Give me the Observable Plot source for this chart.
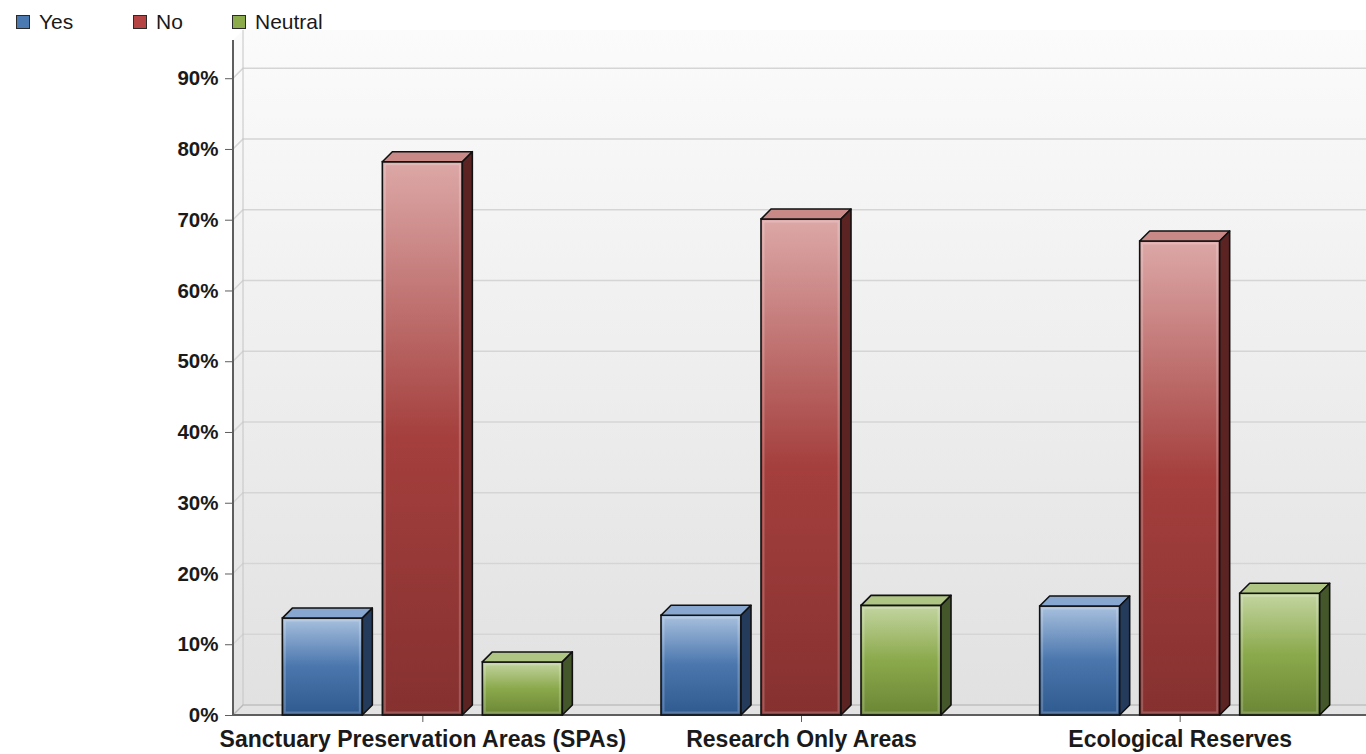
<!DOCTYPE html>
<html>
<head>
<meta charset="utf-8">
<script src="https://cdn.jsdelivr.net/npm/d3@7"></script>
<script src="https://cdn.jsdelivr.net/npm/@observablehq/plot@0.6"></script>
<style>
  html, body { margin: 0; padding: 0; background: #fff; overflow: hidden; }
  #legend { position: relative; z-index: 1; height: 30px; font-family: "Liberation Sans", Arial, Helvetica, sans-serif; font-size: 21px; color: #1a1a1a; }
  #legend .item { position: absolute; top: 0; height: 44px; display: flex; align-items: center; white-space: nowrap; }
  #legend .sw { width: 12px; height: 12px; border: 1.5px solid #2a2a2a; margin-right: 9px; }
  #chart svg { display: block; max-width: none; }
</style>
</head>
<body>
<div id="legend"></div>
<div id="chart"></div>
<script>
// Survey responses per protected-area type (percent of respondents)
const categories = ["Sanctuary Preservation Areas (SPAs)", "Research Only Areas", "Ecological Reserves"];
const seriesNames = ["Yes", "No", "Neutral"];
const yesValues = [13.7, 14.1, 15.4];
const noValues = [78.2, 70.1, 67.0];
const neutralValues = [7.5, 15.5, 17.2];
const yTicks = [0, 10, 20, 30, 40, 50, 60, 70, 80, 90];
const yMax = 95.4;

// Styling for the pseudo-3D bars
const swatchColors = { Yes: "#4a78b0", No: "#b54545", Neutral: "#8cab4b" };
const faceStops = {
  Yes: [[0, "#a8c0de"], [0.5, "#4a76ad"], [1, "#2f5a8f"]],
  No: [[0, "#dca8a7"], [0.5, "#a43f3d"], [1, "#853130"]],
  Neutral: [[0, "#c3d5a1"], [0.5, "#8ba94c"], [1, "#6b8635"]]
};
const topColors = { Yes: "#87a7d0", No: "#c98987", Neutral: "#afc583" };
const sideColors = { Yes: "#243b5b", No: "#5b2423", Neutral: "#44572a" };
const depth = 10;

const rows = categories.flatMap((category, i) => [
  { category, series: "Yes", value: yesValues[i] },
  { category, series: "No", value: noValues[i] },
  { category, series: "Neutral", value: neutralValues[i] }
]);

// Legend
const legendPos = { Yes: 16, No: 133, Neutral: 232 };
const legend = d3.select("#legend");
for (const s of seriesNames) {
  const item = legend.append("div").attr("class", "item").style("left", legendPos[s] + "px");
  item.append("div").attr("class", "sw").style("background", swatchColors[s]);
  item.append("span").text(s);
}

// Back wall, left wall, floor and the gridlines folded along both walls
function drawWalls(index, scales, values, dims) {
  const g = d3.create("svg:g");
  const x0 = dims.marginLeft, x1 = dims.width - dims.marginRight;
  const yb = scales.y(0), yt = scales.y(yMax);
  g.append("rect")
    .attr("x", x0 + depth).attr("y", yt - depth)
    .attr("width", x1 - x0 - depth).attr("height", yb - yt)
    .attr("fill", "url(#wall)");
  g.append("path")
    .attr("d", `M${x0},${yt}L${x0 + depth},${yt - depth}L${x0 + depth},${yb - depth}L${x0},${yb}Z`)
    .attr("fill", "url(#wall)");
  g.append("path")
    .attr("d", `M${x0},${yb}L${x0 + depth},${yb - depth}H${x1}V${yb}Z`)
    .attr("fill", "#e3e3e3");
  const grid = g.append("g").attr("fill", "none").attr("stroke", "#d5d5d5").attr("stroke-width", 1.6);
  for (const t of yTicks) {
    const y = scales.y(t);
    grid.append("path").attr("d", `M${x0},${y}L${x0 + depth},${y - depth}H${x1}`);
  }
  // wall edge and front axis lines
  g.append("path").attr("d", `M${x0 + depth},${yt - depth}V${yb - depth}`).attr("stroke", "#c4c4c4").attr("stroke-width", 1).attr("fill", "none");
  g.append("path").attr("d", `M${x0},${yb}L${x0 + depth},${yb - depth}H${x1}`).attr("stroke", "#b8b8b8").attr("stroke-width", 1.2).attr("fill", "none");
  g.append("path").attr("d", `M${x0},${yt}V${yb}`).attr("stroke", "#5e5e5e").attr("stroke-width", 2);
  g.append("path").attr("d", `M${x0},${yb}H${x1}`).attr("stroke", "#5e5e5e").attr("stroke-width", 2);
  return g.node();
}

// Extrude each bar: top face, side face and an inner bevel highlight
function drawBars(index, scales, values, dims, context, next) {
  const g = next(index, scales, values, dims, context);
  d3.select(g).selectAll("rect").each(function (i) {
    const r = d3.select(this);
    const x = +r.attr("x"), y = +r.attr("y"), w = +r.attr("width"), h = +r.attr("height");
    const s = rows[i].series;
    const p = d3.select(this.parentNode);
    p.append("path")
      .attr("d", `M${x},${y}L${x + depth},${y - depth}H${x + w + depth}L${x + w},${y}Z`)
      .attr("fill", topColors[s]).attr("stroke", "#111").attr("stroke-width", 1.6).attr("stroke-linejoin", "round");
    p.append("path")
      .attr("d", `M${x + w},${y}L${x + w + depth},${y - depth}V${y + h - depth}L${x + w},${y + h}Z`)
      .attr("fill", sideColors[s]).attr("stroke", "#111").attr("stroke-width", 1.6).attr("stroke-linejoin", "round");
    p.append("rect")
      .attr("x", x + 2.5).attr("y", y + 2.5).attr("width", Math.max(0, w - 5)).attr("height", Math.max(0, h - 5))
      .attr("fill", "none").attr("stroke", "rgba(255,255,255,0.2)").attr("stroke-width", 2);
  });
  return g;
}

const chart = Plot.plot({
  width: 1369,
  height: 724,
  marginLeft: 233,
  marginRight: 0,
  marginTop: 10,
  marginBottom: 39,
  style: { fontFamily: "Liberation Sans, Arial, Helvetica, sans-serif", maxWidth: "none", background: "transparent" },
  fx: { domain: categories, padding: 0, round: false, label: null },
  x: { domain: seriesNames, paddingInner: 0.2, paddingOuter: 0.4933, round: false, axis: null },
  y: { domain: [0, yMax], label: null },
  color: { domain: seriesNames, range: seriesNames.map((s) => `url(#face-${s})`) },
  marks: [
    Plot.frame({ facet: "super", stroke: "none", render: drawWalls }),
    Plot.axisY({
      ticks: yTicks, tickFormat: (d) => d + "%", tickSize: 8, tickPadding: 7,
      fontSize: 20.5, fontWeight: "bold", stroke: "#5e5e5e", fill: "#1a1a1a", label: null
    }),
    Plot.axisFx({
      anchor: "bottom", tickSize: 7, tickPadding: 8, fontSize: 23, fontWeight: "bold",
      stroke: "#5e5e5e", fill: "#1a1a1a", label: null
    }),
    Plot.barY(rows, {
      fx: "category", x: "series", y: "value", fill: "series",
      stroke: "#111", strokeWidth: 1.6, render: drawBars
    })
  ]
});

// Gradients referenced by the walls and bar faces
const defs = d3.select(chart).insert("defs", ":first-child");
const wall = defs.append("linearGradient").attr("id", "wall").attr("x1", 0).attr("y1", 0).attr("x2", 0).attr("y2", 1);
wall.append("stop").attr("offset", 0).attr("stop-color", "#fbfbfb");
wall.append("stop").attr("offset", 1).attr("stop-color", "#e1e1e1");
for (const s of seriesNames) {
  const lg = defs.append("linearGradient").attr("id", `face-${s}`).attr("x1", 0).attr("y1", 0).attr("x2", 0).attr("y2", 1);
  for (const [o, c] of faceStops[s]) lg.append("stop").attr("offset", o).attr("stop-color", c);
}

document.getElementById("chart").append(chart);
</script>
</body>
</html>
